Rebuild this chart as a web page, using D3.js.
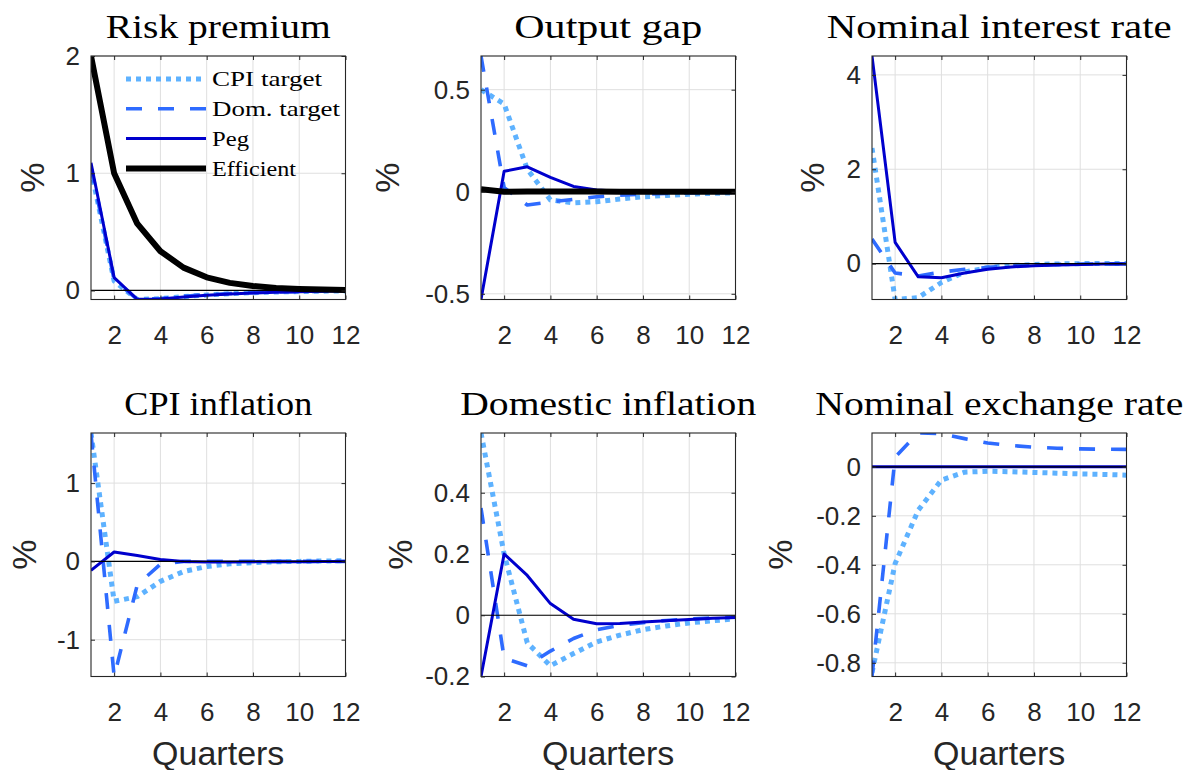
<!DOCTYPE html>
<html>
<head>
<meta charset="utf-8">
<script src="https://cdn.jsdelivr.net/npm/d3@7"></script>
<style>
  html, body { margin: 0; padding: 0; background: #ffffff; }
  svg { display: block; }
</style>
</head>
<body>
<script>
// Impulse responses to a risk-premium shock under four policy regimes.
const quarters = [1, 2, 3, 4, 5, 6, 7, 8, 9, 10, 11, 12];
const xTickValues = [2, 4, 6, 8, 10, 12];
const seriesNames = ["CPI target", "Dom. target", "Peg", "Efficient"];

// Risk premium
const riskCPI  = [1.03, 0.08, -0.077, -0.07, -0.052, -0.038, -0.027, -0.019, -0.013, -0.009, -0.006, -0.004];
const riskDom  = [1.05, 0.09, -0.076, -0.068, -0.05, -0.036, -0.026, -0.018, -0.012, -0.009, -0.006, -0.004];
const riskPeg  = [1.09, 0.11, -0.075, -0.072, -0.055, -0.04, -0.03, -0.021, -0.015, -0.01, -0.007, -0.005];
const riskEff  = [2.0, 1.0, 0.57, 0.335, 0.195, 0.112, 0.065, 0.038, 0.022, 0.013, 0.008, 0.005];

// Output gap
const gapCPI   = [0.5, 0.43, 0.11, -0.04, -0.055, -0.049, -0.036, -0.025, -0.018, -0.012, -0.008, -0.005];
const gapDom   = [0.665, 0.02, -0.065, -0.05, -0.037, -0.025, -0.017, -0.012, -0.008, -0.006, -0.004, -0.003];
const gapPeg   = [-0.528, 0.1, 0.122, 0.07, 0.026, 0.008, 0.002, 0.0, -0.001, -0.001, -0.001, 0.0];
const gapEff   = [0.012, 0.0, 0.001, 0.001, 0.001, 0.001, 0.0, 0.0, 0.0, 0.0, 0.0, 0.0];

// Nominal interest rate
const rateCPI  = [2.45, -0.76, -0.72, -0.4, -0.18, -0.085, -0.04, -0.018, -0.006, 0.0, 0.003, 0.004];
const rateDom  = [0.52, -0.2, -0.26, -0.18, -0.12, -0.08, -0.05, -0.03, -0.018, -0.01, -0.005, -0.002];
const ratePeg  = [4.4, 0.45, -0.28, -0.3, -0.2, -0.12, -0.07, -0.045, -0.028, -0.017, -0.01, -0.006];

// CPI inflation
const cpiInfCPI = [1.64, -0.51, -0.45, -0.255, -0.13, -0.065, -0.03, -0.015, -0.005, 0.0, 0.005, 0.008];
const cpiInfDom = [1.63, -1.47, -0.3, -0.035, 0.0, 0.002, 0.002, 0.001, 0.001, 0.001, 0.001, 0.0];
const cpiInfPeg = [-0.115, 0.12, 0.075, 0.025, 0.0, -0.008, -0.008, -0.006, -0.004, -0.003, -0.002, -0.001];

// Domestic inflation
const domInfCPI = [0.595, 0.2, -0.09, -0.165, -0.125, -0.087, -0.065, -0.047, -0.035, -0.025, -0.018, -0.012];
const domInfDom = [0.35, -0.14, -0.165, -0.117, -0.076, -0.047, -0.033, -0.024, -0.017, -0.012, -0.009, -0.006];
const domInfPeg = [-0.2, 0.2, 0.13, 0.038, -0.013, -0.028, -0.027, -0.022, -0.018, -0.014, -0.01, -0.007];

// Nominal exchange rate
const fxCPI    = [-0.84, -0.395, -0.177, -0.054, -0.022, -0.018, -0.02, -0.023, -0.026, -0.029, -0.031, -0.034];
const fxDom    = [-0.856, 0.04, 0.138, 0.135, 0.115, 0.097, 0.087, 0.08, 0.076, 0.073, 0.072, 0.071];
const fxPeg    = [0, 0, 0, 0, 0, 0, 0, 0, 0, 0, 0, 0];

const panelTitles = ["Risk premium", "Output gap", "Nominal interest rate",
                     "CPI inflation", "Domestic inflation", "Nominal exchange rate"];
const yTickValues = [[0, 1, 2], [-0.5, 0, 0.5], [0, 2, 4],
                     [-1, 0, 1], [-0.2, 0, 0.2, 0.4], [-0.8, -0.6, -0.4, -0.2, 0]];
const xLabel = "Quarters";
const yLabel = "%";

// ---- layout and styling ----
const W = 1189, H = 770;
const colLeft = [91, 481, 872];
const rowTop = [56, 433];
const plotW = 254.5, plotH = 243.5;
const titleWidths = [225, 188, 345, 188, 296, 368];
const legendWidths = [110, 128, 37, 84];
// distance from the axis edge to the centre of each "%" label
const yLabelGap = [59, 94, 60, 67, 81, 92];

const styles = {
  cpi: { color: "#5EB2FF", width: 5,   dash: "5,5" },
  dom: { color: "#2E6BFF", width: 3.6, dash: "16,16" },
  peg: { color: "#0000CD", width: 3,   dash: null },
  eff: { color: "#000000", width: 6,   dash: null }
};
const axisColor = "#262626";
const gridColor = "#dfdfdf";
const sansFont = "'Liberation Sans', Arial, Helvetica, sans-serif";
const serifFont = "'Liberation Serif', 'Times New Roman', serif";

const panels = [
  { series: [["cpi", riskCPI], ["dom", riskDom], ["peg", riskPeg], ["eff", riskEff]], legend: true },
  { series: [["cpi", gapCPI], ["dom", gapDom], ["peg", gapPeg], ["eff", gapEff]] },
  { series: [["cpi", rateCPI], ["dom", rateDom], ["peg", ratePeg]] },
  { series: [["cpi", cpiInfCPI], ["dom", cpiInfDom], ["peg", cpiInfPeg]] },
  { series: [["cpi", domInfCPI], ["dom", domInfDom], ["peg", domInfPeg]] },
  { series: [["cpi", fxCPI], ["dom", fxDom], ["peg", fxPeg]] }
];

const svg = d3.select("body").append("svg")
  .attr("width", W).attr("height", H)
  .attr("viewBox", `0 0 ${W} ${H}`);

const defs = svg.append("defs");

panels.forEach((panel, i) => {
  const col = i % 3, row = Math.floor(i / 3);
  const left = colLeft[col], top = rowTop[row];
  const right = left + plotW, bottom = top + plotH;

  const x = d3.scaleLinear().domain(d3.extent(quarters)).range([left, right]);
  // tight y-limits around every plotted series
  const allValues = panel.series.flatMap(s => s[1]);
  const y = d3.scaleLinear().domain(d3.extent(allValues)).range([bottom, top]);

  const g = svg.append("g").attr("class", "panel");

  // grid
  const grid = g.append("g").attr("class", "grid");
  grid.selectAll("line.gx").data(xTickValues).join("line")
    .attr("x1", d => x(d)).attr("x2", d => x(d))
    .attr("y1", top).attr("y2", bottom)
    .attr("stroke", gridColor).attr("stroke-width", 1);
  grid.selectAll("line.gy").data(yTickValues[i]).join("line")
    .attr("x1", left).attr("x2", right)
    .attr("y1", d => y(d)).attr("y2", d => y(d))
    .attr("stroke", gridColor).attr("stroke-width", 1);

  // clip region for the data lines
  const clipId = "clip" + i;
  defs.append("clipPath").attr("id", clipId)
    .append("rect").attr("x", left).attr("y", top)
    .attr("width", plotW).attr("height", plotH);

  const lines = g.append("g").attr("clip-path", `url(#${clipId})`);
  const lineGen = d3.line()
    .x((d, k) => x(quarters[k]))
    .y(d => y(d));

  panel.series.forEach(([key, values]) => {
    const st = styles[key];
    lines.append("path")
      .datum(values)
      .attr("d", lineGen)
      .attr("fill", "none")
      .attr("stroke", st.color)
      .attr("stroke-width", st.width)
      .attr("stroke-dasharray", st.dash)
      .attr("stroke-linejoin", "round")
      .attr("stroke-linecap", "butt");
  });

  // zero reference line
  lines.append("line")
    .attr("x1", left).attr("x2", right)
    .attr("y1", y(0)).attr("y2", y(0))
    .attr("stroke", "#000").attr("stroke-width", 1.2);

  // axes (ticks point inward on all four sides)
  const fmt = d => String(d);
  const styleAxis = sel => {
    sel.select(".domain").remove();
    sel.selectAll(".tick line").attr("stroke", axisColor).attr("stroke-width", 1);
    sel.selectAll(".tick text")
      .attr("fill", axisColor)
      .style("font-family", sansFont)
      .style("font-size", "26px");
  };

  const yAxis = g.append("g").attr("transform", `translate(${left},0)`)
    .call(d3.axisLeft(y).tickValues(yTickValues[i]).tickFormat(fmt).tickSize(-4).tickPadding(11));
  styleAxis(yAxis);

  g.append("g").attr("transform", `translate(${right},0)`)
    .call(d3.axisRight(y).tickValues(yTickValues[i]).tickFormat("").tickSize(-4))
    .call(styleAxis);

  const xAxis = g.append("g").attr("transform", `translate(0,${bottom})`)
    .call(d3.axisBottom(x).tickValues(xTickValues).tickFormat(fmt).tickSize(-4).tickPadding(0));
  styleAxis(xAxis);
  xAxis.selectAll(".tick text").attr("y", 44).attr("dy", null);

  g.append("g").attr("transform", `translate(0,${top})`)
    .call(d3.axisTop(x).tickValues(xTickValues).tickFormat("").tickSize(-4))
    .call(styleAxis);

  // box
  g.append("rect")
    .attr("x", left).attr("y", top).attr("width", plotW).attr("height", plotH)
    .attr("fill", "none").attr("stroke", axisColor).attr("stroke-width", 1.1);

  // title
  g.append("text")
    .attr("x", (left + right) / 2).attr("y", top - 18.5)
    .attr("text-anchor", "middle")
    .attr("textLength", titleWidths[i]).attr("lengthAdjust", "spacingAndGlyphs")
    .style("font-family", serifFont).style("font-size", "34px").attr("fill", "#000")
    .text(panelTitles[i]);

  // y label
  const ly = (top + bottom) / 2;
  const lx = left - yLabelGap[i];
  g.append("text")
    .attr("transform", `translate(${lx},${ly}) rotate(-90)`)
    .attr("text-anchor", "middle")
    .attr("dy", "0.35em")
    .style("font-family", sansFont).style("font-size", "34px").attr("fill", axisColor)
    .text(yLabel);

  // x label on the bottom row
  if (row === 1) {
    g.append("text")
      .attr("x", (left + right) / 2).attr("y", bottom + 88)
      .attr("text-anchor", "middle")
      .style("font-family", sansFont).style("font-size", "34px").attr("fill", axisColor)
      .text(xLabel);
  }

  // legend
  if (panel.legend) {
    const keys = ["cpi", "dom", "peg", "eff"];
    const lg = g.append("g").attr("class", "legend");
    keys.forEach((key, k) => {
      const st = styles[key];
      const ry = top + 23 + k * 29.8;
      lg.append("line")
        .attr("x1", left + 35).attr("x2", left + 115)
        .attr("y1", ry).attr("y2", ry)
        .attr("stroke", st.color).attr("stroke-width", st.width)
        .attr("stroke-dasharray", st.dash);
      lg.append("text")
        .attr("x", left + 121).attr("y", ry).attr("dy", "0.33em")
        .attr("textLength", legendWidths[k]).attr("lengthAdjust", "spacingAndGlyphs")
        .style("font-family", serifFont).style("font-size", "22px").attr("fill", "#000")
        .text(seriesNames[k]);
    });
  }
});
</script>
</body>
</html>
